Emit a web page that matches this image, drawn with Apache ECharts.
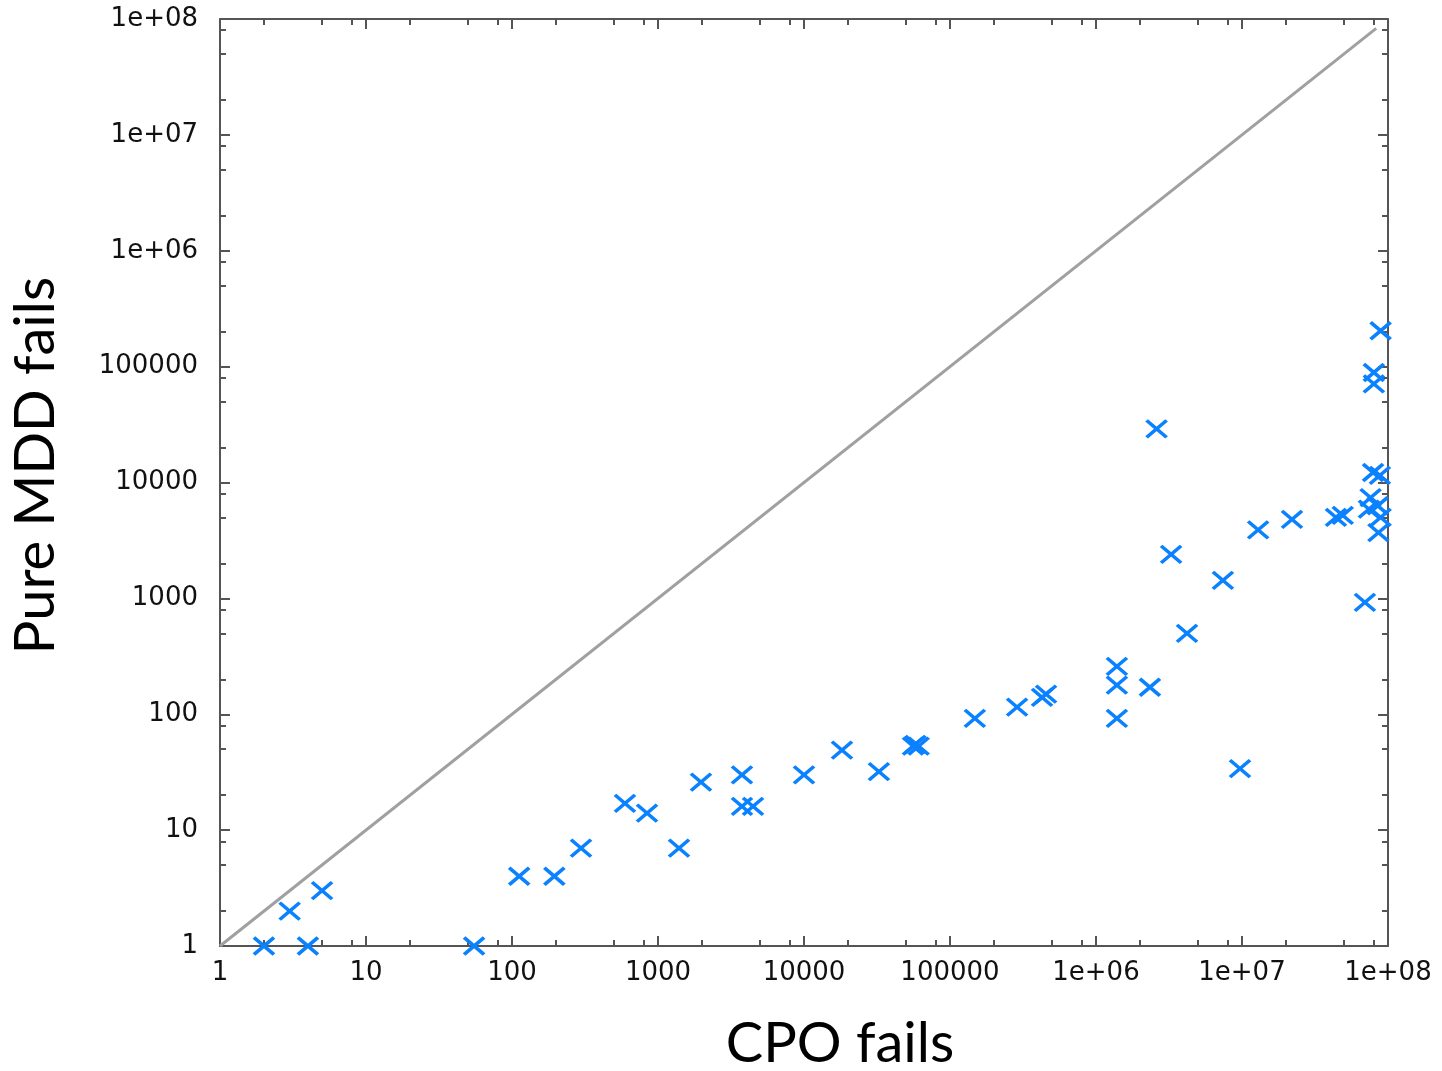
<!DOCTYPE html>
<html>
<head>
<meta charset="utf-8">
<script src="https://cdn.jsdelivr.net/npm/echarts@6/dist/echarts.min.js"></script>
<style>
html,body{margin:0;padding:0;background:#fff;}
#chart{width:1442px;height:1071px;}
</style>
</head>
<body>
<div id="chart"></div>
<script>
// CPO fails (x) vs Pure MDD fails (y)
var cpoFails = [2, 3, 4, 5, 55, 112, 195, 297, 594, 841, 1393, 1970, 3760, 3760, 4475,
  10000, 18200, 32600, 55800, 61000, 58000, 148000, 288000, 427000, 455000,
  1390000, 1390000, 1390000, 2340000, 9690000, 4200000, 7400000, 3270000, 2600000,
  12900000, 22000000, 44000000, 49000000, 69500000, 79000000, 88000000, 76000000,
  74000000, 85000000, 89000000, 86000000, 80000000, 80000000, 89000000];
var mddFails = [1, 2, 1, 3, 1, 4, 4, 7, 17, 14, 7, 26, 30, 16, 16,
  30, 49, 32, 53, 53, 55, 92, 115, 140, 149,
  259, 178, 92, 171, 34, 499, 1430, 2400, 29000,
  3900, 4800, 5000, 5200, 925, 12200, 11500, 7400,
  5900, 6300, 5000, 3700, 89000, 71000, 204000];
// y = x reference line endpoints
var diagX = [1, 83000000];
var diagY = [1, 83000000];
// axis ticks
var majorTicks = [1, 10, 100, 1000, 10000, 100000, 1000000, 10000000, 100000000];
var tickLabels = ['1', '10', '100', '1000', '10000', '100000', '1e+06', '1e+07', '1e+08'];
var minorTicks = [2, 5, 8, 20, 50, 80, 200, 500, 800, 2000, 5000, 8000,
  20000, 50000, 80000, 200000, 500000, 800000, 2000000, 5000000, 8000000,
  20000000, 50000000, 80000000];

var points = cpoFails.map(function (v, i) { return [v, mddFails[i]]; });
var diag = diagX.map(function (v, i) { return [v, diagY[i]]; });

function labelFor(v) {
  for (var i = 0; i < majorTicks.length; i++) {
    if (Math.abs(Math.log10(v) - Math.log10(majorTicks[i])) < 1e-6) return tickLabels[i];
  }
  return '';
}

var axisColor = '#555';
var labelStyle = { color: '#111', fontFamily: 'DejaVu Sans', fontSize: 26 };

function makeAxis(pos, kind) {
  return {
    type: 'log', logBase: 10, min: 1, max: 100000000, position: pos,
    splitLine: { show: false },
    axisLine: { show: kind === 'major', onZero: false, lineStyle: { color: axisColor, width: 2 } },
    axisTick: {
      show: true, inside: true,
      length: kind === 'major' ? 10 : 6,
      customValues: kind === 'major' ? majorTicks : minorTicks,
      lineStyle: { color: axisColor, width: 2 }
    },
    axisLabel: { show: false }
  };
}

var xAxes = [makeAxis('bottom', 'major'), makeAxis('bottom', 'minor'),
  makeAxis('top', 'major'), makeAxis('top', 'minor')];
var yAxes = [makeAxis('left', 'major'), makeAxis('left', 'minor'),
  makeAxis('right', 'major'), makeAxis('right', 'minor')];

xAxes[0].axisLabel = Object.assign({ show: true, margin: 14, customValues: majorTicks, formatter: labelFor }, labelStyle);
xAxes[0].name = 'CPO fails';
xAxes[0].nameLocation = 'middle';
xAxes[0].nameGap = 70;
xAxes[0].nameTextStyle = { fontFamily: 'Lato', fontSize: 56, color: '#000', padding: [0, 0, 0, 72] };

yAxes[0].axisLabel = Object.assign({ show: true, margin: 22, customValues: majorTicks, formatter: labelFor }, labelStyle);
yAxes[0].name = 'Pure MDD fails';
yAxes[0].nameLocation = 'middle';
yAxes[0].nameGap = 156;
yAxes[0].nameRotate = 90;
yAxes[0].nameTextStyle = { fontFamily: 'Lato', fontSize: 56, color: '#000', padding: [0, 0, 0, 34] };

var chart = echarts.init(document.getElementById('chart'), null, { renderer: 'canvas' });
chart.setOption({
  animation: false,
  backgroundColor: '#fff',
  grid: { left: 220, right: 54, top: 19, bottom: 125, containLabel: false, outerBoundsMode: 'none' },
  xAxis: xAxes,
  yAxis: yAxes,
  series: [
    {
      type: 'line', data: diag, xAxisIndex: 0, yAxisIndex: 0,
      symbol: 'none', lineStyle: { color: '#a0a0a0', width: 3 }, z: 2
    },
    {
      type: 'scatter', data: points, xAxisIndex: 0, yAxisIndex: 0,
      symbol: 'path://M0,0L20,17M20,0L0,17',
      symbolSize: [20, 17],
      clip: false,
      itemStyle: { color: 'none', borderColor: '#0a82ff', borderWidth: 3.5, opacity: 1 },
      z: 3
    }
  ]
});
</script>
</body>
</html>
